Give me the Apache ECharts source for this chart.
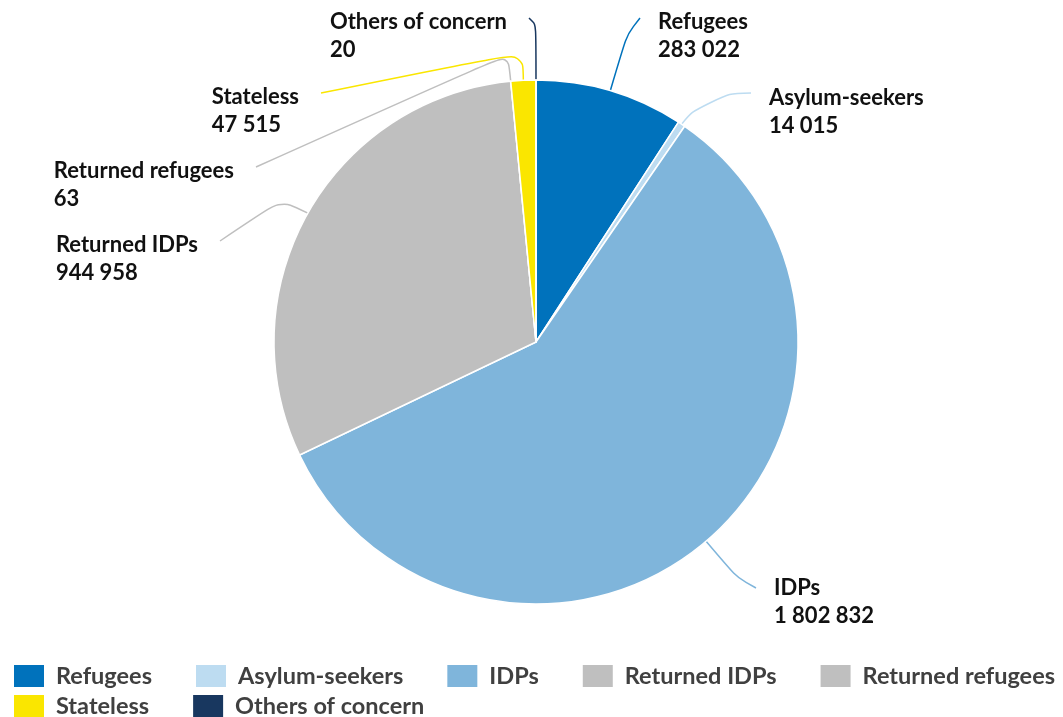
<!DOCTYPE html>
<html>
<head>
<meta charset="utf-8">
<script src="https://cdn.jsdelivr.net/npm/echarts@6/dist/echarts.min.js"></script>
<style>
html,body{margin:0;padding:0;background:#fff;}
#chart{width:1063px;height:717px;}
</style>
</head>
<body>
<div id="chart"></div>
<script>
// ---- data ----
const categories = ['Refugees', 'Asylum-seekers', 'IDPs', 'Returned IDPs', 'Returned refugees', 'Stateless', 'Others of concern'];
const values = [283022, 14015, 1802832, 944958, 63, 47515, 20];
const valueLabels = ['283 022', '14 015', '1 802 832', '944 958', '63', '47 515', '20'];

// ---- styles / layout (not data) ----
const colors = ['#0072BC', '#BDDCF1', '#7FB5DB', '#BFBFBF', '#BFBFBF', '#FAE600', '#18375F'];
// label guide line: elbow and end points (px), side, label top offset, smoothness
const labelGuides = [
  { elbow: [630, 24], end: [640, 18], side: 'right', top: 8, smooth: 1 },
  { elbow: [706, 94], end: [751, 93], side: 'right', top: 84, smooth: 0.6 },
  { elbow: [744, 586], end: [756, 588], side: 'right', top: 574, smooth: 1 },
  { elbow: [281, 200], end: [220, 241], side: 'left', top: 231, smooth: 0.3 },
  { elbow: [508, 54], end: [256, 167], side: 'left', top: 157, smooth: 0.3 },
  { elbow: [523, 52], end: [321, 93], side: 'left', top: 83, smooth: 0.4 },
  { elbow: [536, 18], end: [529, 18], side: 'left', top: 8, smooth: 1 }
];

const chart = echarts.init(document.getElementById('chart'), null, { renderer: 'canvas' });

const pieData = categories.map((name, i) => ({
  name: name,
  value: values[i],
  itemStyle: { color: colors[i] },
  labelLine: { smooth: labelGuides[i].smooth }
}));

const legendText = {
  fontFamily: 'Lato',
  fontSize: 23.5,
  fontWeight: 'bold',
  color: '#404040',
  padding: [0, 0, 0, 6]
};

const legendBase = {
  orient: 'horizontal',
  icon: 'rect',
  itemWidth: 32, itemHeight: 24,
  itemGap: 42,
  padding: 0,
  left: 12,
  right: 0,
  selectedMode: false,
  textStyle: legendText
};

const option = {
  backgroundColor: '#ffffff',
  animation: false,
  legend: [
    Object.assign({ data: categories.slice(0, 5), top: 663 }, legendBase),
    Object.assign({ data: categories.slice(5), top: 693 }, legendBase)
  ],
  series: [{
    type: 'pie',
    center: [536, 342],
    radius: [0, 262],
    startAngle: 90,
    clockwise: true,
    avoidLabelOverlap: false,
    silent: true,
    itemStyle: { borderColor: '#ffffff', borderWidth: 1.5 },
    label: {
      show: true,
      position: 'outside',
      formatter: function (p) { return p.name + '\n' + valueLabels[p.dataIndex]; },
      fontFamily: 'Lato',
      fontWeight: 'bold',
      fontSize: 22,
      lineHeight: 28,
      color: '#111111',
      align: 'left'
    },
    labelLine: {
      show: true,
      length: 20,
      length2: 20,
      lineStyle: { width: 1.5 }
    },
    labelLayout: function (params) {
      const g = labelGuides[params.dataIndex];
      const p0 = params.labelLinePoints ? params.labelLinePoints[0] : g.elbow;
      const w = params.labelRect.width;
      const x = g.side === 'right' ? g.end[0] + 18 : g.end[0] - 22 - w;
      return {
        x: x,
        y: g.top,
        align: 'left',
        verticalAlign: 'top',
        labelLinePoints: [p0, g.elbow, g.end]
      };
    },
    emphasis: { disabled: true },
    data: pieData
  }]
};

chart.setOption(option);
</script>
</body>
</html>
